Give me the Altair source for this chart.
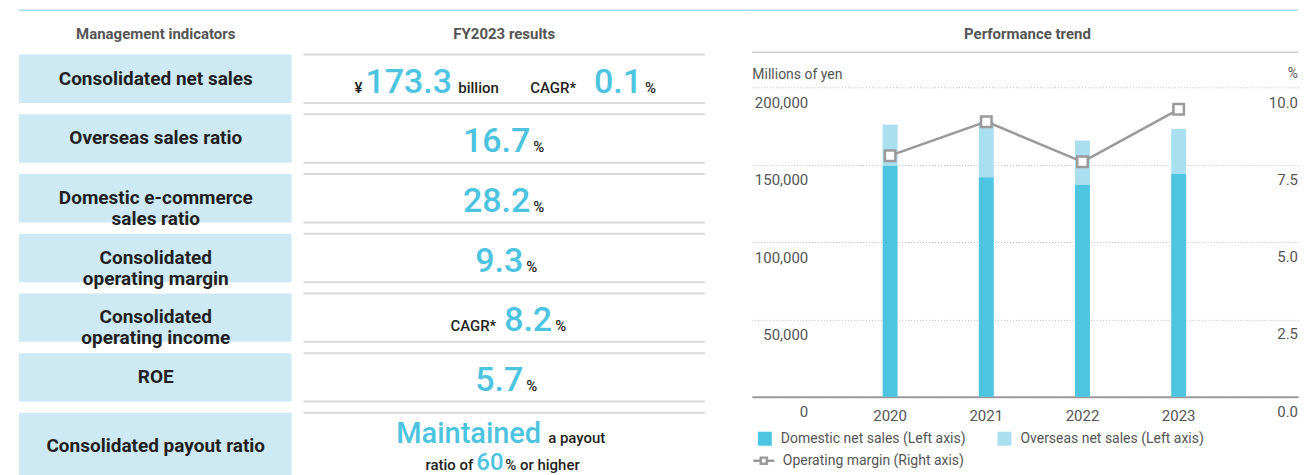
import altair as alt
import pandas as pd

# ---------------- values ----------------
header_labels = ["Management indicators", "FY2023 results"]
indicator_names = [
    "Consolidated net sales",
    "Overseas sales ratio",
    "Domestic e-commerce\nsales ratio",
    "Consolidated\noperating margin",
    "Consolidated\noperating income",
    "ROE",
    "Consolidated payout ratio",
]
result_values = ["173.3", "0.1", "16.7", "28.2", "9.3", "8.2", "5.7", "60"]
result_words = ["¥", "billion", "CAGR*", "%", "Maintained", "a payout", "ratio of", "% or higher"]

trend_title = "Performance trend"
years = ["2020", "2021", "2022", "2023"]
domestic_sales = [149700, 142100, 137400, 144500]
overseas_sales = [26400, 36000, 28400, 28800]
operating_margin = [7.8, 8.9, 7.6, 9.3]
series_names = ["Domestic net sales (Left axis)", "Overseas net sales (Left axis)"]
line_name = "Operating margin (Right axis)"
left_ticks = [0, 50000, 100000, 150000, 200000]
right_ticks = [0.0, 2.5, 5.0, 7.5, 10.0]
left_unit, right_unit = "Millions of yen", "%"

# ---------------- styles / layout ----------------
FONT = "Roboto"
CYAN = "#4cc3df"
BAR_DOM = "#4dc5e0"
BAR_OVS = "#aadff0"
CELL = "#cdeaf4"
DARK = "#231f20"
GREY_TXT = "#555555"
TOPLINE = "#a3dcef"
ROWLINE = "#d9d9d9"

PANEL_X0 = 18
LW, LH = 734, 452
RW, RH = 547, 387
PITCH = 59.8
C0 = 68.3
y_dom = [-C0 / PITCH, (LH - C0) / PITCH]
yscale = alt.Scale(domain=y_dom, reverse=True, nice=False, zero=False)

# ---------------- left panel (indicator table) ----------------
rows = []
for i, name in enumerate(indicator_names):
    last = i == len(indicator_names) - 1
    rows.append({
        "row": i,
        "name": name,
        "top": i - 24 / PITCH,
        "bot": i + (44 if last else 24.5) / PITCH,
        "lab": i + (9.5 if last else 0) / PITCH,
        "line_bot": 0 if last else 1,
    })
rows_df = pd.DataFrame(rows)

v, w = result_values, result_words
piece_layout = [
    (0, w[0], "unit", 362, "right", 14),
    (0, v[0], "big", 365, "left", 14),
    (0, w[1], "unit", 458, "left", 14),
    (0, w[2], "unit", 530, "left", 14),
    (0, v[1], "big", 642, "right", 14),
    (0, w[3], "unit", 645, "left", 14),
    (1, v[2], "big", 530, "right", 14),
    (1, w[3], "unit", 533, "left", 14),
    (2, v[3], "big", 530, "right", 14),
    (2, w[3], "unit", 533, "left", 14),
    (3, v[4], "big", 523, "right", 14),
    (3, w[3], "unit", 526, "left", 14),
    (4, w[2], "unit", 496, "right", 14),
    (4, v[5], "big", 552, "right", 14),
    (4, w[3], "unit", 555, "left", 14),
    (5, v[6], "big", 523, "right", 14),
    (5, w[3], "unit", 526, "left", 14),
    (6, w[4], "mid", 541, "right", 6),
    (6, w[5], "unit", 548, "left", 6),
    (6, w[6], "unit", 473, "right", 33),
    (6, v[7], "big2", 476, "left", 33),
    (6, w[7], "unit", 505, "left", 33),
]
pieces_df = pd.DataFrame([
    {"text": t, "style": s, "align": a, "xp": xp - PANEL_X0, "y": r + off / PITCH}
    for (r, t, s, xp, a, off) in piece_layout
])
styles = {
    "big": dict(fontSize=34, color=CYAN, fontWeight=500),
    "mid": dict(fontSize=29, color=CYAN, fontWeight=500),
    "big2": dict(fontSize=24, color=CYAN, fontWeight=500),
    "unit": dict(fontSize=15, color=DARK, fontWeight=500),
}

hdr_df = pd.DataFrame({"t": header_labels, "x": [137, 486]})

top_rule_l = alt.Chart(hdr_df.head(1)).mark_rule(color=TOPLINE, strokeWidth=1.5).encode(
    x=alt.value(0), x2=alt.value(LW), y=alt.value(0))
hdr_l = alt.Chart(hdr_df).mark_text(font=FONT, fontSize=15, fontWeight="bold", color=GREY_TXT).encode(
    x=alt.X("x:Q", scale=None), y=alt.value(24), text="t:N")
cells = alt.Chart(rows_df).mark_rect(color=CELL).encode(
    x=alt.value(0), x2=alt.value(273),
    y=alt.Y("top:Q", scale=yscale, axis=None), y2="bot:Q")
line_top = alt.Chart(rows_df).mark_rule(color=ROWLINE, strokeWidth=2).encode(
    x=alt.value(285), x2=alt.value(687), y=alt.Y("top:Q", scale=yscale, axis=None))
line_bot = alt.Chart(rows_df).transform_filter("datum.line_bot == 1").mark_rule(
    color=ROWLINE, strokeWidth=2).encode(
    x=alt.value(285), x2=alt.value(687), y=alt.Y("bot:Q", scale=yscale, axis=None))
labels = alt.Chart(rows_df).mark_text(
    font=FONT, fontSize=19, fontWeight="bold", color=DARK, lineBreak="\n", lineHeight=21,
    baseline="middle", align="center").encode(
    x=alt.value(137), y=alt.Y("lab:Q", scale=yscale, axis=None), text="name:N")

piece_layers = []
for st in ["big", "mid", "big2", "unit"]:
    for al in ["left", "right"]:
        sub = pieces_df[(pieces_df["style"] == st) & (pieces_df["align"] == al)]
        if len(sub) == 0:
            continue
        piece_layers.append(
            alt.Chart(sub).mark_text(font=FONT, align=al, baseline="alphabetic", **styles[st]).encode(
                x=alt.X("xp:Q", scale=None),
                y=alt.Y("y:Q", scale=yscale, axis=None),
                text="text:N"))

left = alt.layer(top_rule_l, hdr_l, cells, line_top, line_bot, labels, *piece_layers).properties(
    width=LW, height=LH)

# ---------------- right panel (performance trend) ----------------
bars_df = pd.DataFrame({
    "year": years * 2,
    "series": [series_names[0]] * len(years) + [series_names[1]] * len(years),
    "value": domestic_sales + overseas_sales,
    "order": [0] * len(years) + [1] * len(years),
})
line_df = pd.DataFrame({"year": years, "margin": operating_margin, "name": [line_name] * len(years)})
rtick_df = pd.DataFrame({"v": right_ticks})

xscale = alt.Scale(domain=years, paddingInner=0, paddingOuter=0.839, align=0.5586)
xaxis = alt.Axis(title=None, labelFont=FONT, labelFontSize=15, labelColor=GREY_TXT, labelPadding=12,
                 ticks=False, domainColor="#9a9a9a", domainWidth=2, labelAngle=0)

left_axis = alt.Axis(values=left_ticks, format=",.0f", grid=True, gridColor="#bdbdbd", gridDash=[1, 2],
                     gridWidth=1, domain=False, ticks=False, labelAlign="right", labelPadding=-56,
                     labelOffset=15, labelBaseline="middle", labelFont=FONT, labelFontSize=15,
                     labelColor=GREY_TXT, title=left_unit, titleAngle=0, titleAlign="left",
                     titleX=0, titleY=64, titleBaseline="middle", titleFont=FONT, titleFontSize=14,
                     titleFontWeight="normal", titleColor=GREY_TXT)

LEG_X = LW  # legends are positioned from the chart's origin
bars = alt.Chart(bars_df).mark_bar(size=15).encode(
    x=alt.X("year:O", scale=xscale, axis=xaxis),
    y=alt.Y("value:Q", stack="zero", scale=alt.Scale(domain=[0, 250000], nice=False), axis=left_axis),
    color=alt.Color("series:N", scale=alt.Scale(domain=series_names, range=[BAR_DOM, BAR_OVS]),
                    legend=alt.Legend(orient="none", legendX=LEG_X + 6, legendY=422,
                                      direction="horizontal", columns=2, title=None,
                                      symbolType="square", symbolSize=196, symbolStrokeWidth=0,
                                      labelFont=FONT, labelFontSize=14, labelLimit=400,
                                      labelColor=GREY_TXT, labelOffset=9, columnPadding=31, padding=0)),
    order=alt.Order("order:Q"),
)

SYMBOL = "M-1,0L-0.29,0M0.29,0L1,0M-0.29,-0.29L0.29,-0.29L0.29,0.29L-0.29,0.29Z"
mscale = alt.Scale(domain=[0, 12.5], nice=False)
line = alt.Chart(line_df).mark_line(strokeWidth=2.5).encode(
    x=alt.X("year:O", scale=xscale, axis=xaxis),
    y=alt.Y("margin:Q", scale=mscale, axis=None),
    stroke=alt.Stroke("name:N", scale=alt.Scale(domain=[line_name], range=["#9a9a9a"]),
                      legend=alt.Legend(orient="none", legendX=LEG_X, legendY=439, title=None,
                                        symbolType=SYMBOL, symbolSize=441, symbolStrokeWidth=2.5,
                                        symbolFillColor="white", labelFont=FONT, labelFontSize=14,
                                        labelLimit=400, labelColor=GREY_TXT, labelOffset=7,
                                        padding=0)),
)
pts = alt.Chart(line_df).mark_point(shape="square", size=110, filled=True, fill="white",
                                    stroke="#9a9a9a", strokeWidth=2.5, opacity=1).encode(
    x=alt.X("year:O", scale=xscale, axis=xaxis),
    y=alt.Y("margin:Q", scale=mscale, axis=None),
)
# right-hand axis labels drawn through the margin scale, inside the plot
rlabels = alt.Chart(rtick_df).mark_text(font=FONT, fontSize=15, color=GREY_TXT, align="right",
                                        baseline="middle", dy=15).encode(
    x=alt.value(RW), y=alt.Y("v:Q", scale=mscale, axis=None), text=alt.Text("v:Q", format=".1f"))
line_layer = alt.layer(line, pts, rlabels)

deco_df = pd.DataFrame({"t": [trend_title], "u": [right_unit]})
top_rule_r = alt.Chart(deco_df).mark_rule(color=TOPLINE, strokeWidth=1.5).encode(
    x=alt.value(0), x2=alt.value(RW), y=alt.value(0))
sub_rule = alt.Chart(deco_df).mark_rule(color="#cfcfcf", strokeWidth=1.5).encode(
    x=alt.value(0), x2=alt.value(RW), y=alt.value(42))
title_txt = alt.Chart(deco_df).mark_text(font=FONT, fontSize=15, fontWeight="bold", color=GREY_TXT).encode(
    x=alt.value(276), y=alt.value(24), text="t:N")
unit_txt = alt.Chart(deco_df).mark_text(font=FONT, fontSize=14, color=GREY_TXT, align="right").encode(
    x=alt.value(RW), y=alt.value(64), text="u:N")

right = alt.layer(top_rule_r, sub_rule, title_txt, unit_txt, bars, line_layer).resolve_scale(
    y="independent").properties(width=RW, height=RH)

chart = alt.hconcat(left, right, spacing=0, bounds="flush").properties(
    padding={"left": 10, "top": 1, "right": 0, "bottom": 0}
).configure_view(strokeWidth=0)

chart.save("out.html", embed_options={"renderer": "svg", "actions": False})
